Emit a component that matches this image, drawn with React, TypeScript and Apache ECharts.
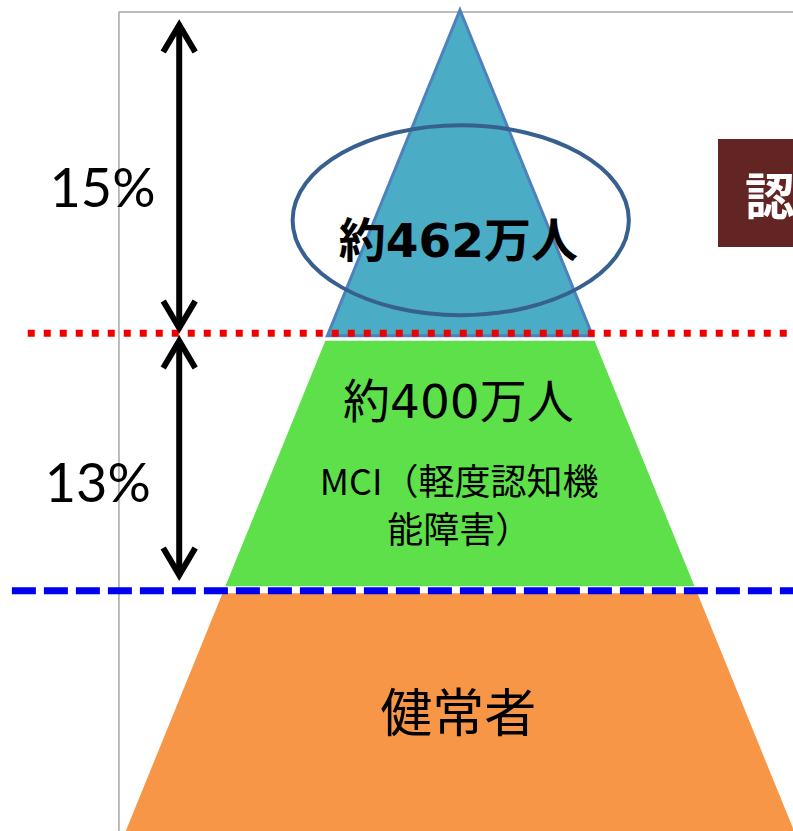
import React, { useEffect, useRef } from 'react';
import * as echarts from 'echarts';

// ---- data ----
// pyramid levels (diagram height units, 0 = base of picture): apex, dementia/MCI boundary, MCI/healthy boundary, base
const LEVELS = [98.8, 59.9, 28.9, 0];
const LAYER_NAMES = ['認知症', 'MCI', '健常者'];
const LAYER_COUNTS = ['約462万人', '約400万人', ''];
const LAYER_NOTES = ['', 'MCI（軽度認知機\n能障害）', '健常者'];
const SHARES = ['15%', '13%'];
const TITLE = '認知症';

// ---- layout / style ----
const APEX = LEVELS[0];
const SLOPE = 0.4265;
const LAYER_FILLS = ['#4bacc6', '#5ee04a', '#f79646'];
const LAYER_GAPS = [[0, 2.5], [7.5, -4.5], [2.5, 0]]; // px offsets top / bottom
const ARROW_X = -35.4;
const ARROW_SPANS = [[97.35, 60.17], [59.33, 30.44]];
const SHARE_POS = [[-38.4, 77.6], [-39.0, 42.1]];
const COUNT_POS = [[-0.2, 71.1], [-0.2, 51.7]];
const NOTE_POS = [[0, 0], [-0.1, 39.5], [-0.2, 14.6]];
const CJK = '"Noto Sans CJK JP", "Noto Sans CJK SC", sans-serif';
const COUNT_FONT = '"DejaVu Sans", "Noto Sans CJK JP", sans-serif';

function renderLayer(params: any, api: any) {
  const i = api.value(0);
  const top = api.value(1);
  const bottom = api.value(2);
  const unitPx = api.size([0, 1])[1];
  const off = LAYER_GAPS[i];
  const yTop = top - off[0] / unitPx;
  const yBot = bottom - off[1] / unitPx;
  const hwTop = SLOPE * (APEX - yTop);
  const hwBot = SLOPE * (APEX - yBot);
  const pts = [
    api.coord([-hwTop, yTop]),
    api.coord([hwTop, yTop]),
    api.coord([hwBot, yBot]),
    api.coord([-hwBot, yBot]),
  ];
  return {
    type: 'polygon',
    shape: { points: pts },
    style: {
      fill: LAYER_FILLS[i],
      stroke: i === 0 ? '#4f81bd' : null,
      lineWidth: i === 0 ? 3 : 0,
      lineJoin: 'miter',
    },
  };
}

function renderArrow(params: any, api: any) {
  const i = api.value(0);
  const a = api.coord([ARROW_X, api.value(1)]);
  const b = api.coord([ARROW_X, api.value(2)]);
  const dx = 16;
  const dy = 30;
  const ls = { stroke: '#000', lineWidth: 6, fill: null, lineJoin: 'miter', lineCap: 'butt' };
  const s = api.coord([SHARE_POS[i][0], SHARE_POS[i][1]]);
  return {
    type: 'group',
    children: [
      { type: 'line', shape: { x1: a[0], y1: a[1] + 3, x2: b[0], y2: b[1] - 3 }, style: ls },
      { type: 'polyline', shape: { points: [[a[0] - dx, a[1] + dy], [a[0], a[1] + 3], [a[0] + dx, a[1] + dy]] }, style: ls },
      { type: 'polyline', shape: { points: [[b[0] - dx, b[1] - dy], [b[0], b[1] - 3], [b[0] + dx, b[1] - dy]] }, style: ls },
      {
        type: 'text',
        x: s[0],
        y: s[1],
        style: {
          text: SHARES[i],
          fill: '#000',
          fontSize: 54,
          fontFamily: 'Lato, "Open Sans", sans-serif',
          align: 'right',
          verticalAlign: 'middle',
        },
      },
    ],
  };
}

function renderLabels(params: any, api: any) {
  const i = api.value(0);
  const children: any[] = [];
  if (LAYER_COUNTS[i]) {
    const p = api.coord(COUNT_POS[i]);
    children.push({
      type: 'text',
      x: p[0],
      y: p[1],
      style: {
        text: LAYER_COUNTS[i],
        fill: '#000',
        fontSize: 47,
        fontWeight: i === 0 ? 'bold' : 'normal',
        fontFamily: COUNT_FONT,
        align: 'center',
        verticalAlign: 'middle',
      },
    });
  }
  if (LAYER_NOTES[i]) {
    const p = api.coord(NOTE_POS[i]);
    children.push({
      type: 'text',
      x: p[0],
      y: p[1],
      style: {
        text: LAYER_NOTES[i],
        fill: '#000',
        fontSize: i === 2 ? 52 : 36,
        lineHeight: 48,
        fontFamily: CJK,
        align: 'center',
        verticalAlign: 'middle',
      },
    });
  }
  return { type: 'group', children };
}

function renderEllipse(params: any, api: any) {
  const c = api.coord([api.value(0), api.value(1)]);
  const sz = api.size([api.value(2), api.value(3)]);
  return {
    type: 'ellipse',
    shape: { cx: c[0], cy: c[1], rx: sz[0], ry: sz[1] },
    style: { fill: null, stroke: '#37608f', lineWidth: 4 },
  };
}

function renderTitle(params: any, api: any) {
  const tl = api.coord([api.value(0), api.value(1)]);
  const br = api.coord([api.value(2), api.value(3)]);
  const t = api.coord([api.value(4), (api.value(1) + api.value(3)) / 2]);
  return {
    type: 'group',
    children: [
      { type: 'rect', shape: { x: tl[0], y: tl[1], width: br[0] - tl[0], height: br[1] - tl[1] }, style: { fill: '#632523' } },
      {
        type: 'text',
        x: t[0],
        y: t[1],
        style: {
          text: TITLE,
          fill: '#fff',
          fontSize: 50,
          fontWeight: 'bold',
          fontFamily: CJK,
          align: 'left',
          verticalAlign: 'middle',
        },
      },
    ],
  };
}

const layerData = LAYER_NAMES.map((n, i) => ({ name: n, value: [i, LEVELS[i], LEVELS[i + 1]] }));

const option: any = {
  animation: false,
  backgroundColor: '#fff',
  grid: { left: 0, right: 0, top: 0, bottom: 0 },
  xAxis: { type: 'value', min: -58, max: 42, show: false },
  yAxis: { type: 'value', min: 0, max: 100, show: false },
  series: [
    {
      type: 'line',
      name: 'frame',
      data: [[-43, -5], [-43, 98.56], [45, 98.56]],
      symbol: 'none',
      silent: true,
      lineStyle: { color: '#a6a6a6', width: 1.5 },
      z: 1,
    },
    {
      type: 'custom',
      name: 'pyramid',
      renderItem: renderLayer,
      data: layerData,
      z: 2,
    },
    {
      type: 'custom',
      name: 'ellipse',
      renderItem: renderEllipse,
      data: [[0.1, 73.5, 21.2, 11.43]],
      z: 3,
    },
    {
      type: 'custom',
      name: 'labels',
      renderItem: renderLabels,
      data: LAYER_NAMES.map((n, i) => [i]),
      z: 4,
    },
    {
      type: 'line',
      name: 'dementia line',
      data: [[-54.5, LEVELS[1]], [45, LEVELS[1]]],
      symbol: 'none',
      silent: true,
      lineStyle: { color: '#ee0000', width: 7, type: [7, 9], cap: 'butt' },
      z: 5,
    },
    {
      type: 'line',
      name: 'mci line',
      data: [[-56.5, LEVELS[2]], [45, LEVELS[2]]],
      symbol: 'none',
      silent: true,
      lineStyle: { color: '#0000ee', width: 7, type: [24, 8], cap: 'butt' },
      z: 5,
    },
    {
      type: 'custom',
      name: 'arrows',
      renderItem: renderArrow,
      data: ARROW_SPANS.map((s, i) => [i, s[0], s[1]]),
      z: 6,
    },
    {
      type: 'custom',
      name: 'title',
      renderItem: renderTitle,
      data: [[32.54, 83.27, 48, 70.28, 35.95]],
      z: 6,
    },
  ],
};

export default function App() {
  const ref = useRef<HTMLDivElement>(null);
  useEffect(() => {
    const chart = echarts.init(ref.current!, null, { renderer: 'svg' });
    chart.setOption(option);
    return () => chart.dispose();
  }, []);
  return <div ref={ref} style={{ position: 'absolute', left: 0, top: 0, width: 793, height: 831 }} />;
}
